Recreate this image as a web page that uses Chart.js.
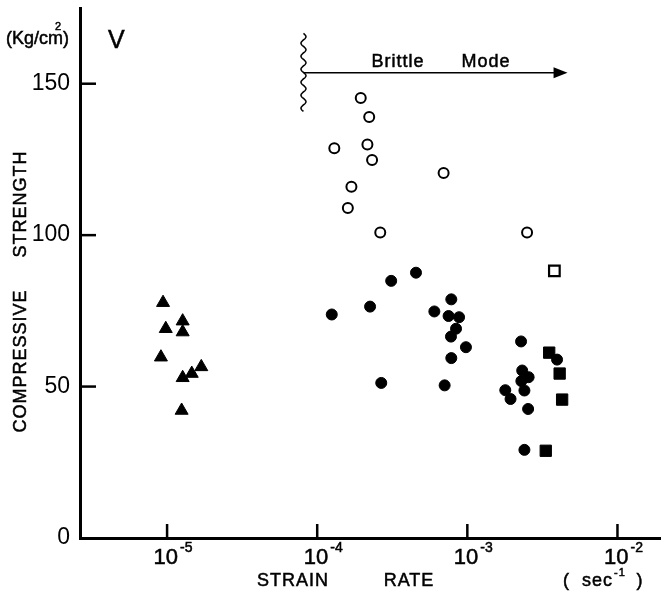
<!DOCTYPE html>
<html>
<head>
<meta charset="utf-8">
<script src="https://cdn.jsdelivr.net/npm/chart.js@4/dist/chart.umd.min.js"></script>
<style>
  html, body { margin: 0; padding: 0; background: #fff; }
  #wrap { width: 661px; height: 593px; }
</style>
</head>
<body>
<div id="wrap"><canvas id="strengthChart" width="661" height="593"></canvas></div>
<script>
/* ===============================
   DATA (strain rate in 1/sec, strength in Kg/cm2)
================================= */
const triRate     = [9.4e-6, 9.8e-6, 1.27e-5, 1.27e-5, 9.1e-6, 1.27e-5, 1.46e-5, 1.69e-5, 1.25e-5];
const triStrength = [77.7, 69.1, 71.6, 68.0, 59.7, 52.9, 54.3, 56.5, 42.1];

const openCircleRate     = [1.95e-4, 2.22e-4, 1.30e-4, 2.16e-4, 2.32e-4, 6.95e-4, 1.69e-4, 1.60e-4, 2.63e-4, 2.50e-3];
const openCircleStrength = [145.3, 139.0, 128.7, 129.9, 124.8, 120.5, 116.0, 109.0, 100.9, 100.9];

const openSquareRate     = [3.8e-3];
const openSquareStrength = [88.2];

const dotRate = [
    1.25e-4, 2.25e-4, 3.11e-4, 4.55e-4, 2.67e-4,
    7.82e-4, 6.03e-4, 7.50e-4, 8.81e-4, 8.41e-4, 7.78e-4, 9.79e-4, 7.82e-4, 7.06e-4,
    2.28e-3, 2.32e-3, 2.56e-3, 2.29e-3, 2.40e-3, 1.79e-3, 1.94e-3, 2.54e-3, 2.40e-3, 3.96e-3
];
const dotStrength = [
    73.8, 76.4, 84.9, 87.6, 51.2,
    78.8, 74.8, 73.3, 72.9, 69.1, 66.5, 63.0, 59.4, 50.4,
    64.9, 55.3, 53.1, 51.8, 48.7, 48.8, 45.9, 42.6, 29.1, 58.9
];

const squareRate     = [3.51e-3, 4.12e-3, 4.28e-3, 3.33e-3];
const squareStrength = [61.2, 54.3, 45.7, 28.8];

const xTicks = [1e-5, 1e-4, 1e-3, 1e-2];
const xTickExp = ['-5', '-4', '-3', '-2'];
const yTicks = [0, 50, 100, 150];

const xMin = 2.63e-6, xMax = 1.95e-2;
const yMin = 0, yMax = 175;

// brittle mode arrow, in data units
const brittleStart = 8.1e-5, brittleEnd = 4.65e-3;
const brittleY = 153.6, wavyTop = 166.6, wavyBottom = 140.7;

/* ===============================
   HELPERS
================================= */
const zip = (xs, ys) => xs.map((x, i) => ({ x: x, y: ys[i] }));
const FONT = '"Liberation Sans", Arial, sans-serif';

// scanned lettering is a bit heavier than a plain fill
function inkText(ctx, text, x, y) {
    ctx.fillText(text, x, y);
    ctx.strokeText(text, x, y);
}

/* ===============================
   DECORATIONS PLUGIN
================================= */
const decorations = {
    id: 'decorations',
    afterDraw(chart) {
        const ctx = chart.ctx;
        const area = chart.chartArea;
        const xs = chart.scales.x;
        const ys = chart.scales.y;

        ctx.save();
        ctx.strokeStyle = '#000';
        ctx.fillStyle = '#000';

        // inward tick marks
        ctx.lineWidth = 2.5;
        yTicks.slice(1).forEach(v => {
            const py = ys.getPixelForValue(v);
            ctx.beginPath();
            ctx.moveTo(area.left, py);
            ctx.lineTo(area.left + 16, py);
            ctx.stroke();
        });
        xTicks.forEach(v => {
            const px = xs.getPixelForValue(v);
            ctx.beginPath();
            ctx.moveTo(px, area.bottom);
            ctx.lineTo(px, area.bottom - 14);
            ctx.stroke();
        });

        ctx.lineWidth = 0.5;
        ctx.textBaseline = 'alphabetic';

        // x tick labels 10^n
        xTicks.forEach((v, i) => {
            const px = xs.getPixelForValue(v);
            ctx.font = '22px ' + FONT;
            const baseW = ctx.measureText('10').width;
            ctx.font = '14px ' + FONT;
            const expW = ctx.measureText(xTickExp[i]).width;
            const left = px - (baseW + expW + 2) / 2 + 6;
            ctx.font = '22px ' + FONT;
            ctx.textAlign = 'left';
            inkText(ctx, '10', left, 564);
            ctx.font = '14px ' + FONT;
            inkText(ctx, xTickExp[i], left + baseW + 2, 552);
        });

        // axis titles
        ctx.textAlign = 'center';
        ctx.font = '18px ' + FONT;
        ctx.letterSpacing = '1px';
        inkText(ctx, 'STRAIN', 293, 586);
        inkText(ctx, 'RATE', 409, 586);
        inkText(ctx, '(  sec', 588, 586);
        inkText(ctx, ')', 640, 586);
        ctx.font = '11px ' + FONT;
        inkText(ctx, '-1', 620, 576);

        ctx.font = '18px ' + FONT;
        ctx.save();
        ctx.translate(26, 361);
        ctx.rotate(-Math.PI / 2);
        inkText(ctx, 'COMPRESSIVE', 0, 0);
        ctx.restore();
        ctx.save();
        ctx.translate(26, 204);
        ctx.rotate(-Math.PI / 2);
        inkText(ctx, 'STRENGTH', 0, 0);
        ctx.restore();
        ctx.letterSpacing = '0px';

        // unit + panel letter
        ctx.textAlign = 'left';
        ctx.font = '18px ' + FONT;
        inkText(ctx, '(Kg/cm', 6, 44);
        const kgW = ctx.measureText('(Kg/cm').width;
        ctx.font = '11px ' + FONT;
        inkText(ctx, '2', 6 + kgW - 8, 30);
        ctx.font = '18px ' + FONT;
        inkText(ctx, ')', 6 + kgW, 44);
        ctx.font = '25px ' + FONT;
        inkText(ctx, 'V', 108, 48);

        // brittle mode arrow
        const ax0 = xs.getPixelForValue(brittleStart);
        const ax1 = xs.getPixelForValue(brittleEnd);
        const ay = ys.getPixelForValue(brittleY);
        ctx.lineWidth = 1.6;
        ctx.beginPath();
        ctx.moveTo(ax0, ay);
        ctx.lineTo(ax1 - 12, ay);
        ctx.stroke();
        ctx.beginPath();
        ctx.moveTo(ax1, ay);
        ctx.lineTo(ax1 - 14, ay - 5.5);
        ctx.lineTo(ax1 - 14, ay + 5.5);
        ctx.closePath();
        ctx.fill();

        const wy0 = ys.getPixelForValue(wavyTop);
        const wy1 = ys.getPixelForValue(wavyBottom);
        ctx.lineWidth = 1.5;
        ctx.beginPath();
        for (let y = wy0; y <= wy1; y += 0.5) {
            const x = ax0 + 2.5 * Math.sin((y - wy0) / 13 * 2 * Math.PI);
            if (y === wy0) ctx.moveTo(x, y); else ctx.lineTo(x, y);
        }
        ctx.stroke();

        ctx.lineWidth = 0.5;
        ctx.font = '18px ' + FONT;
        ctx.letterSpacing = '1px';
        ctx.textAlign = 'center';
        inkText(ctx, 'Brittle', 398, 67);
        inkText(ctx, 'Mode', 486, 67);
        ctx.restore();
    }
};

/* ===============================
   CHART
================================= */
function initChart() {
    const ctx = document.getElementById('strengthChart').getContext('2d');

    new Chart(ctx, {
        type: 'scatter',
        data: {
            datasets: [
                {
                    data: zip(triRate, triStrength),
                    pointStyle: 'triangle',
                    pointRadius: 7.5,
                    backgroundColor: '#000',
                    borderColor: '#000',
                    borderWidth: 1
                },
                {
                    data: zip(openCircleRate, openCircleStrength),
                    pointStyle: 'circle',
                    pointRadius: 5,
                    backgroundColor: '#fff',
                    borderColor: '#000',
                    borderWidth: 2
                },
                {
                    data: zip(openSquareRate, openSquareStrength),
                    pointStyle: 'rect',
                    pointRadius: 7.5,
                    backgroundColor: '#fff',
                    borderColor: '#000',
                    borderWidth: 2.2
                },
                {
                    data: zip(dotRate, dotStrength),
                    pointStyle: 'circle',
                    pointRadius: 5.5,
                    backgroundColor: '#000',
                    borderColor: '#000',
                    borderWidth: 1
                },
                {
                    data: zip(squareRate, squareStrength),
                    pointStyle: 'rect',
                    pointRadius: 8,
                    backgroundColor: '#000',
                    borderColor: '#000',
                    borderWidth: 1
                }
            ]
        },
        options: {
            responsive: false,
            animation: false,
            layout: { autoPadding: false, padding: { top: 8, right: 0, left: 0, bottom: 0 } },
            plugins: {
                legend: { display: false },
                tooltip: { enabled: false }
            },
            scales: {
                x: {
                    type: 'logarithmic',
                    min: xMin,
                    max: xMax,
                    afterBuildTicks: s => { s.ticks = xTicks.map(v => ({ value: v })); },
                    afterFit: s => {
                        s.height = 55;
                        s.paddingLeft = 0;
                        s.paddingRight = 0;
                    },
                    grid: { display: false, drawTicks: false },
                    border: { display: true, color: '#000', width: 3 },
                    ticks: { display: false }
                },
                y: {
                    min: yMin,
                    max: yMax,
                    afterBuildTicks: s => { s.ticks = yTicks.map(v => ({ value: v })); },
                    afterFit: s => {
                        s.width = 80;
                        s.paddingTop = 0;
                        s.paddingBottom = 0;
                    },
                    grid: { display: false, drawTicks: false },
                    border: { display: true, color: '#000', width: 3 },
                    ticks: {
                        color: '#000',
                        padding: 10,
                        font: { family: FONT, size: 23 }
                    }
                }
            }
        },
        plugins: [decorations]
    });
}

document.addEventListener('DOMContentLoaded', initChart);
</script>
</body>
</html>
